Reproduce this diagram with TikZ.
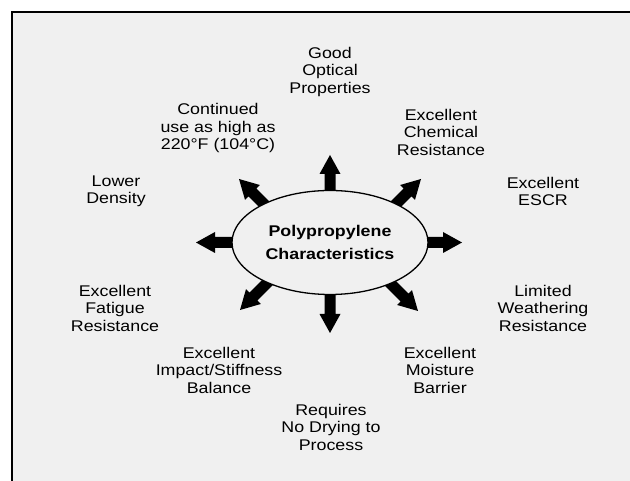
\documentclass[tikz,border=0pt]{standalone}
\usepackage{fontspec}
\setmainfont{Liberation Sans}[FakeStretch=1.15]
\usetikzlibrary{shapes.geometric}
\definecolor{paper}{gray}{0.94}
\newcommand{\fatarrow}[2]{% tip, direction
  \fill[shift={#1},rotate=#2] (0,0) -- (-19,10.5) -- (-19,5.5) -- (-50,5.5)
    -- (-50,-5.5) -- (-19,-5.5) -- (-19,-10.5) -- cycle;}

\begin{document}
\begin{tikzpicture}[x=1pt,y=1pt,
    trait/.style={align=center,inner sep=0pt,font=\fontsize{15.5}{17.5}\selectfont},
    hub/.style={ellipse,draw,line width=1.3pt,fill=paper,minimum width=196pt,
      minimum height=104pt,inner sep=0pt,align=center,
      font=\bfseries\fontsize{15.5}{23}\selectfont}]
            % Page and frame
            \fill[white] (0,0) rectangle (630,481);
            \useasboundingbox (0,0) rectangle (630,481);
            \fill[paper] (12,0) rectangle (630,469);
            \draw[line width=2pt] (12,0) -- (12,469) -- (630,469);
            % Arrows out of the ellipse
            \fatarrow{(330,326)}{90}    % up
            \fatarrow{(421,302)}{45}    % up right
            \fatarrow{(462,238.5)}{0}   % right
            \fatarrow{(418,170)}{-45}   % down right
            \fatarrow{(330,148)}{-90}   % down
            \fatarrow{(240,171)}{-135}  % down left
            \fatarrow{(196,238.5)}{180} % left
            \fatarrow{(239,302)}{135}   % up left
            \node[hub] (core) at (330,238.5) {Polypropylene\\Characteristics};
            % Characteristics
            \node[trait] (optical) at (330,409) {Good\\Optical\\Properties};
            \node[trait] (chemical) at (441,349) {Excellent\\Chemical\\Resistance};
            \node[trait] (escr) at (543,289.5) {Excellent\\ESCR};
            \node[trait] (weather) at (543,173) {Limited\\Weathering\\Resistance};
            \node[trait] (moisture) at (440,111) {Excellent\\Moisture\\Barrier};
            \node[trait] (drying) at (331,54) {Requires\\No Drying to\\Process};
            \node[trait] (impact) at (219,111) {Excellent\\Impact/Stiffness\\Balance};
            \node[trait] (fatigue) at (115,173) {Excellent\\Fatigue\\Resistance};
            \node[trait] (density) at (116,289.5) {Lower\\Density};
            \node[trait] (heat) at (218,353) {Continued\\use as high as\\220°F (104°C)};
\end{tikzpicture}
\end{document}
